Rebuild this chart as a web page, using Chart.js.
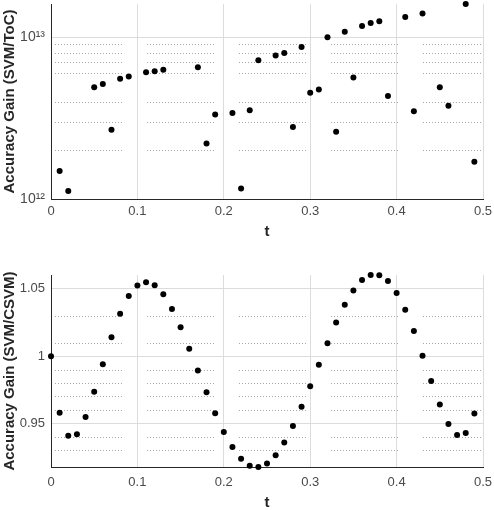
<!DOCTYPE html>
<html>
<head>
<meta charset="utf-8">
<script src="https://cdn.jsdelivr.net/npm/chart.js@4/dist/chart.umd.min.js"></script>
<style>
  html, body { margin: 0; padding: 0; background: #fff; overflow: hidden; }
  .box { position: absolute; left: 0; width: 494px; }
</style>
</head>
<body>
<div class="box" style="top:0;height:250px"><canvas id="top" width="494" height="250"></canvas></div>
<div class="box" style="top:250px;height:260px"><canvas id="bottom" width="494" height="260"></canvas></div>
<script>
// top panel: SVM / ToC (log axis)
const tToc = [0.01, 0.02, 0.05, 0.06, 0.07, 0.08, 0.09, 0.11, 0.12, 0.13,
              0.17, 0.18, 0.19, 0.21, 0.22, 0.23, 0.24, 0.26, 0.27, 0.28,
              0.29, 0.30, 0.31, 0.32, 0.33, 0.34, 0.35, 0.36, 0.37, 0.38,
              0.39, 0.41, 0.42, 0.43, 0.45, 0.46, 0.48, 0.49];
const gainToc = [1.49e12, 1.12e12, 4.89e12, 5.13e12, 2.68e12, 5.52e12, 5.70e12, 6.07e12, 6.16e12, 6.28e12,
                 6.52e12, 2.20e12, 3.32e12, 3.40e12, 1.16e12, 3.53e12, 7.19e12, 7.68e12, 7.98e12, 2.78e12,
                 8.69e12, 4.53e12, 4.75e12, 9.96e12, 2.60e12, 1.08e13, 5.62e12, 1.17e13, 1.22e13, 1.25e13,
                 4.32e12, 1.33e13, 3.48e12, 1.40e13, 4.89e12, 3.76e12, 1.60e13, 1.70e12];
const tocTicks = [1e12, 1e13];
const tocTickLabels = ['10\u00b9\u00b2', '10\u00b9\u00b3'];
const tocMinor = [2e12, 3e12, 4e12, 6e12, 7e12, 8e12, 9e12];

// bottom panel: SVM / CSVM
const tCsvm = [0.00, 0.01, 0.02, 0.03, 0.04, 0.05, 0.06, 0.07, 0.08, 0.09,
               0.10, 0.11, 0.12, 0.13, 0.14, 0.15, 0.16, 0.17, 0.18, 0.19,
               0.20, 0.21, 0.22, 0.23, 0.24, 0.25, 0.26, 0.27, 0.28, 0.29,
               0.30, 0.31, 0.32, 0.33, 0.34, 0.35, 0.36, 0.37, 0.38, 0.39,
               0.40, 0.41, 0.42, 0.43, 0.44, 0.45, 0.46, 0.47, 0.48, 0.49];
const gainCsvm = [1.0000, 0.9579, 0.9409, 0.9419, 0.9547, 0.9736, 0.9940, 1.0141, 1.0315, 1.0447,
                  1.0525, 1.0550, 1.0527, 1.0459, 1.0351, 1.0214, 1.0055, 0.9893, 0.9731, 0.9576,
                  0.9436, 0.9324, 0.9238, 0.9186, 0.9176, 0.9202, 0.9264, 0.9359, 0.9481, 0.9624,
                  0.9776, 0.9936, 1.0095, 1.0250, 1.0381, 1.0487, 1.0565, 1.0603, 1.0601, 1.0558,
                  1.0470, 1.0345, 1.0186, 1.0002, 0.9816, 0.9640, 0.9495, 0.9414, 0.9429, 0.9574];
const csvmTicks = [0.95, 1, 1.05];
const csvmTickLabels = ['0.95', '1', '1.05'];
const csvmMinor = [0.93, 0.94, 0.96, 0.97, 0.98, 0.99, 1.01, 1.03];

const tTicks = [0, 0.1, 0.2, 0.3, 0.4, 0.5];
const tTickLabels = ['0', '0.1', '0.2', '0.3', '0.4', '0.5'];

const FONT = "'Liberation Sans', Arial, sans-serif";

// dotted minor grid, broken in pieces like the exported figure
const minorGrid = {
    id: 'minorGrid',
    beforeDatasetsDraw(chart, args, opts) {
        const { ctx, chartArea: a } = chart;
        const y = chart.scales.y;
        ctx.save();
        ctx.strokeStyle = '#a8a8a8';
        ctx.lineWidth = 1;
        ctx.setLineDash([1, 2]);
        opts.values.forEach(v => {
            const py = Math.round(y.getPixelForValue(v)) + 0.5;
            for (let x0 = a.left + 4; x0 < a.right; x0 += 92) {
                ctx.beginPath();
                ctx.moveTo(x0, py);
                ctx.lineTo(Math.min(x0 + 67, a.right), py);
                ctx.stroke();
            }
        });
        ctx.restore();
    }
};

function makeChart(id, cfg) {
    const ctx = document.getElementById(id).getContext('2d');
    return new Chart(ctx, {
        type: 'scatter',
        data: {
            datasets: [{
                data: cfg.x.map((t, i) => ({ x: t, y: cfg.y[i] })),
                backgroundColor: '#000',
                borderWidth: 0,
                pointRadius: 3,
                pointHoverRadius: 3,
                clip: false
            }]
        },
        options: {
            responsive: false,
            animation: false,
            events: [],
            layout: { padding: { top: cfg.padTop, right: 11, left: 0, bottom: 0 } },
            plugins: {
                legend: { display: false },
                tooltip: { enabled: false },
                minorGrid: { values: cfg.minor }
            },
            scales: {
                x: {
                    type: 'linear',
                    min: 0,
                    max: 0.5,
                    afterBuildTicks: s => { s.ticks = tTicks.map(v => ({ value: v })); },
                    afterFit: s => {
                        s.height = cfg.xHeight;
                        s.paddingLeft = 0;
                        s.paddingRight = 0;
                    },
                    ticks: {
                        callback: (v, i) => tTickLabels[i],
                        color: '#4a4a4a',
                        font: { family: FONT, size: 13 },
                        padding: cfg.xTickPad,
                        maxRotation: 0
                    },
                    grid: {
                        drawTicks: false,
                        color: c => c.tick && c.tick.value === 0 ? 'rgba(0,0,0,0)' : '#dcdcdc'
                    },
                    border: { color: '#262626', width: 1 },
                    title: {
                        display: true,
                        text: 't',
                        color: '#262626',
                        font: { family: FONT, size: 15, weight: 'bold', lineHeight: 1 },
                        padding: { top: 0, bottom: cfg.xTitlePad }
                    }
                },
                y: {
                    type: cfg.yType,
                    min: cfg.yMin,
                    max: cfg.yMax,
                    afterBuildTicks: s => { s.ticks = cfg.ticks.map(v => ({ value: v })); },
                    afterFit: s => {
                        s.width = 51;
                        s.paddingTop = 0;
                        s.paddingBottom = 0;
                    },
                    ticks: {
                        callback: (v, i) => cfg.tickLabels[i],
                        color: '#4a4a4a',
                        font: { family: FONT, size: cfg.yTickSize },
                        padding: 6
                    },
                    grid: { drawTicks: false, color: '#dcdcdc' },
                    border: { color: '#262626', width: 1 },
                    title: {
                        display: true,
                        text: cfg.yTitle,
                        color: '#262626',
                        font: { family: FONT, size: 15, weight: 'bold', lineHeight: 1 },
                        padding: { top: 2, bottom: 0 }
                    }
                }
            }
        },
        plugins: [minorGrid]
    });
}

makeChart('top', {
    x: tToc, y: gainToc,
    yType: 'logarithmic',
    yMin: 1e12, yMax: Math.max(...gainToc),
    ticks: tocTicks, tickLabels: tocTickLabels, minor: tocMinor, yTickSize: 14,
    yTitle: 'Accuracy Gain (SVM/ToC)',
    padTop: 4, xHeight: 51, xTickPad: 5, xTitlePad: 11
});

makeChart('bottom', {
    x: tCsvm, y: gainCsvm,
    yType: 'linear',
    yMin: Math.min(...gainCsvm), yMax: Math.max(...gainCsvm),
    ticks: csvmTicks, tickLabels: csvmTickLabels, minor: csvmMinor, yTickSize: 13,
    yTitle: 'Accuracy Gain (SVM/CSVM)',
    padTop: 25, xHeight: 43, xTickPad: 8, xTitlePad: 0
});
</script>
</body>
</html>
